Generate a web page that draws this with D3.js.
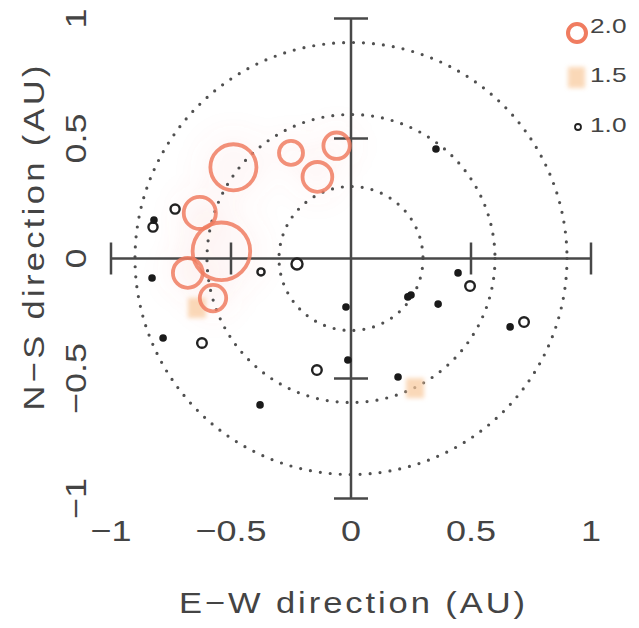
<!DOCTYPE html>
<html>
<head>
<meta charset="utf-8">
<script src="https://cdn.jsdelivr.net/npm/d3@7/dist/d3.min.js"></script>
<style>
  body { margin: 0; background: #fff; }
  text { font-family: "Liberation Sans", Arial, sans-serif; fill: #444; }
</style>
</head>
<body>
<div id="chart"></div>
<script>
// AU positions
const bigX = [-0.49, -0.25, -0.06, -0.14, -0.63, -0.54, -0.68, -0.575];
const bigY = [0.38, 0.44, 0.47, 0.34, 0.19, 0.03, -0.06, -0.165];
const bigSize = [0.096, 0.05, 0.055, 0.062, 0.067, 0.12, 0.062, 0.055];

const midX = [-0.642, 0.267];
const midY = [-0.206, -0.54];

const openX = [-0.733, -0.825, -0.375, -0.225, 0.496, 0.721, -0.142, -0.621];
const openY = [0.206, 0.131, -0.056, -0.023, -0.115, -0.265, -0.465, -0.352];
const openSize = [0.019, 0.019, 0.015, 0.023, 0.02, 0.02, 0.02, 0.02];

const dotX = [-0.821, -0.829, -0.021, 0.354, 0.446, 0.25, 0.237, 0.363, 0.663, -0.013, 0.196, -0.379, -0.783];
const dotY = [0.16, -0.081, -0.202, 0.456, -0.06, -0.152, -0.16, -0.19, -0.285, -0.423, -0.494, -0.61, -0.331];

const ringRadii = [0.3, 0.6, 0.9];
const tickValues = [-1, -0.5, 0, 0.5, 1];
const tickLabels = ["\u22121", "\u22120.5", "0", "0.5", "1"];
const legendLabels = ["2.0", "1.5", "1.0"];

const orange = "#f07c60";
const lightOrange = "#f8c89a";

const svg = d3.select("#chart")
  .append("svg")
  .attr("width", 639)
  .attr("height", 628);

const x = d3.scaleLinear().domain([-1, 1]).range([111, 591]);
const y = d3.scaleLinear().domain([-1, 1]).range([498.5, 18.5]);
const r = d3.scaleLinear().domain([0, 1]).range([0, 240]);

const defs = svg.append("defs");
defs.append("filter").attr("id", "soft")
  .append("feGaussianBlur").attr("stdDeviation", 0.7);
defs.append("filter").attr("id", "blur2").attr("x", "-50%").attr("y", "-50%")
  .attr("width", "200%").attr("height", "200%")
  .append("feGaussianBlur").attr("stdDeviation", 2);
defs.append("filter").attr("id", "haze").attr("x", "-100%").attr("y", "-100%")
  .attr("width", "300%").attr("height", "300%")
  .append("feGaussianBlur").attr("stdDeviation", 14);

// faint glow behind the big circles
svg.append("g")
  .attr("filter", "url(#haze)")
  .selectAll("circle")
  .data(bigX)
  .enter()
  .append("circle")
  .attr("cx", d => x(d))
  .attr("cy", (d, i) => y(bigY[i]))
  .attr("r", (d, i) => r(bigSize[i]) * 1.5)
  .attr("fill", orange)
  .attr("opacity", 0.05);

// dotted distance rings
svg.append("g")
  .selectAll("circle")
  .data(ringRadii)
  .enter()
  .append("circle")
  .attr("cx", x(0))
  .attr("cy", y(0))
  .attr("r", d => r(d))
  .attr("fill", "none")
  .attr("stroke", "#505050")
  .attr("stroke-width", 3.2)
  .attr("stroke-linecap", "round")
  .attr("stroke-dasharray", "0 10");

// crosshair axes
const axes = svg.append("g").attr("stroke", "#484848").attr("stroke-width", 2.5);
axes.append("line")
  .attr("x1", x(-1)).attr("x2", x(1))
  .attr("y1", y(0)).attr("y2", y(0));
axes.append("line")
  .attr("x1", x(0)).attr("x2", x(0))
  .attr("y1", y(-1)).attr("y2", y(1));
const crossTicks = tickValues.filter(d => d !== 0);
axes.selectAll(".tx")
  .data(crossTicks)
  .enter()
  .append("line")
  .attr("x1", d => x(d)).attr("x2", d => x(d))
  .attr("y1", y(0) - 16).attr("y2", y(0) + 16);
axes.selectAll(".ty")
  .data(crossTicks)
  .enter()
  .append("line")
  .attr("y1", d => y(d)).attr("y2", d => y(d))
  .attr("x1", x(0) - 17).attr("x2", x(0) + 17);

// light orange squares (1.5)
svg.append("g")
  .attr("filter", "url(#blur2)")
  .selectAll("rect")
  .data(midX)
  .enter()
  .append("rect")
  .attr("x", d => x(d) - 9)
  .attr("y", (d, i) => y(midY[i]) - 10)
  .attr("width", 18)
  .attr("height", 20)
  .attr("fill", lightOrange)
  .attr("opacity", 0.7);

// big orange rings (2.0)
svg.append("g")
  .attr("filter", "url(#soft)")
  .selectAll("circle")
  .data(bigX)
  .enter()
  .append("circle")
  .attr("cx", d => x(d))
  .attr("cy", (d, i) => y(bigY[i]))
  .attr("r", (d, i) => r(bigSize[i]))
  .attr("fill", "none")
  .attr("stroke", orange)
  .attr("stroke-width", 3.8)
  .attr("opacity", 0.85);

// small black open circles (1.0)
svg.append("g")
  .selectAll("circle")
  .data(openX)
  .enter()
  .append("circle")
  .attr("cx", d => x(d))
  .attr("cy", (d, i) => y(openY[i]))
  .attr("r", (d, i) => r(openSize[i]))
  .attr("fill", "none")
  .attr("stroke", "#222")
  .attr("stroke-width", 2.4);

// black filled dots
svg.append("g")
  .selectAll("circle")
  .data(dotX)
  .enter()
  .append("circle")
  .attr("cx", d => x(d))
  .attr("cy", (d, i) => y(dotY[i]))
  .attr("r", 3.8)
  .attr("fill", "#1a1a1a");

// tick labels on the frame
svg.append("g")
  .selectAll("text")
  .data(tickValues)
  .enter()
  .append("text")
  .attr("transform", d => `translate(${x(d)},541) scale(1.2,1)`)
  .attr("text-anchor", "middle")
  .attr("font-size", 30)
  .text((d, i) => tickLabels[i]);

svg.append("g")
  .selectAll("text")
  .data(tickValues)
  .enter()
  .append("text")
  .attr("transform", d => `translate(86,${y(d)}) rotate(-90) scale(1.2,1)`)
  .attr("text-anchor", "middle")
  .attr("font-size", 30)
  .text((d, i) => tickLabels[i]);

// axis titles
svg.append("text")
  .attr("transform", "translate(352,613) scale(1.15,1)")
  .attr("text-anchor", "middle")
  .attr("font-size", 30)
  .attr("fill", "#555")
  .attr("textLength", 301)
  .attr("lengthAdjust", "spacing")
  .text("E\u2212W direction (AU)");

svg.append("text")
  .attr("transform", "translate(44,238) rotate(-90) scale(1.15,1)")
  .attr("text-anchor", "middle")
  .attr("font-size", 30)
  .attr("fill", "#555")
  .attr("textLength", 300)
  .attr("lengthAdjust", "spacing")
  .text("N\u2212S direction (AU)");

// legend
const legend = svg.append("g");
legend.append("circle")
  .attr("cx", 577).attr("cy", 33).attr("r", 9)
  .attr("fill", "none").attr("stroke", orange).attr("stroke-width", 4)
  .attr("filter", "url(#soft)");
legend.append("rect")
  .attr("x", 568).attr("y", 67).attr("width", 17).attr("height", 21)
  .attr("fill", lightOrange).attr("opacity", 0.7)
  .attr("filter", "url(#blur2)");
legend.append("circle")
  .attr("cx", 578).attr("cy", 127).attr("r", 3)
  .attr("fill", "none").attr("stroke", "#222").attr("stroke-width", 1.8);
legend.selectAll("text")
  .data(legendLabels)
  .enter()
  .append("text")
  .attr("transform", (d, i) => `translate(590,${[33, 82, 132][i]}) scale(1.25,1)`)
  .attr("font-size", 21)
  .text(d => d);
</script>
</body>
</html>
